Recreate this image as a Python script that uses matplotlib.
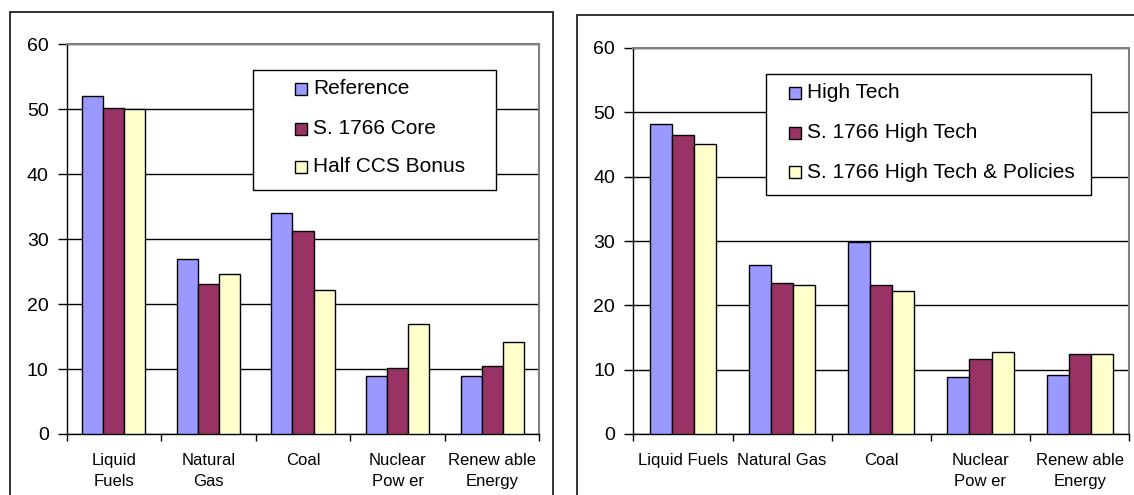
import matplotlib
matplotlib.use("Agg")
import matplotlib.pyplot as plt
from matplotlib.patches import Rectangle
import numpy as np

plt.rcParams['font.family'] = ['Liberation Sans', 'DejaVu Sans']

# ---- data ----
left_categories = ["Liquid\nFuels", "Natural\nGas", "Coal", "Nuclear\nPow er", "Renew able\nEnergy"]
left_series = ["Reference", "S. 1766 Core", "Half CCS Bonus"]
left_reference = [52.0, 27.0, 34.0, 9.0, 9.0]
left_core = [50.2, 23.1, 31.3, 10.2, 10.4]
left_half_ccs = [50.0, 24.6, 22.1, 17.0, 14.1]

right_categories = ["Liquid Fuels", "Natural Gas", "Coal", "Nuclear\nPow er", "Renew able\nEnergy"]
right_series = ["High Tech", "S. 1766 High Tech", "S. 1766 High Tech & Policies"]
right_high_tech = [48.2, 26.2, 29.9, 8.8, 9.1]
right_s1766_ht = [46.5, 23.5, 23.2, 11.7, 12.5]
right_s1766_htp = [45.1, 23.2, 22.3, 12.7, 12.5]

y_ticks = [0, 10, 20, 30, 40, 50, 60]
colors = ["#9999FF", "#993366", "#FFFFCC"]

W, H = 1134, 495
fig = plt.figure(figsize=(W / 100, H / 100), dpi=100)


def fx(px):
    return px / W


def fy(py):
    return 1 - py / H


def draw_panel(rect, categories, values_list, series, legend_box, marker_x, text_x, rows_y):
    ax = fig.add_axes(rect)
    n = len(categories)
    x = np.arange(n)
    bw = 1 / 4.5
    for i, (vals, c) in enumerate(zip(values_list, colors)):
        ax.bar(x + (i - 1) * bw, vals, width=bw, color=c, edgecolor="black",
               linewidth=1.0, zorder=3)
    ax.set_xlim(-0.5, n - 0.5)
    ax.set_ylim(0, 60)
    ax.set_yticks(y_ticks)
    ax.set_axisbelow(True)
    ax.yaxis.grid(True, color="black", linewidth=1.0)
    ax.tick_params(axis="y", direction="out", length=6.5, width=1, pad=6.5,
                   labelsize=14, color="black")
    ax.set_xticks(x)
    ax.set_xticklabels(categories, fontsize=12, linespacing=1.5)
    ax.tick_params(axis="x", which="major", length=0, pad=14)
    ax.set_xticks(np.arange(n + 1) - 0.5, minor=True)
    ax.tick_params(axis="x", which="minor", direction="out", length=5, width=1, color="black")
    for s in ["top", "right"]:
        ax.spines[s].set_color("#808080")
        ax.spines[s].set_linewidth(1.5)
    for s in ["left", "bottom"]:
        ax.spines[s].set_color("black")
        ax.spines[s].set_linewidth(1.0)

    # legend box
    lx0, ly0, lx1, ly1 = legend_box
    fig.add_artist(Rectangle((fx(lx0), fy(ly1)), fx(lx1 - lx0), (ly1 - ly0) / H,
                             transform=fig.transFigure, facecolor="white",
                             edgecolor="black", linewidth=1.0, zorder=5))
    for name, c, ry in zip(series, colors, rows_y):
        fig.add_artist(Rectangle((fx(marker_x), fy(ry + 6)), fx(12), 12 / H,
                                 transform=fig.transFigure, facecolor=c,
                                 edgecolor="black", linewidth=1.0, zorder=6))
        fig.text(fx(text_x), fy(ry), name, fontsize=15, va="center", ha="left", zorder=6)
    return ax


draw_panel([fx(66.7), fy(434), fx(539.3 - 66.7), (434 - 44.3) / H],
           left_categories, [left_reference, left_core, left_half_ccs], left_series,
           (253, 70, 496, 190), 295, 313, [89, 129, 167])

draw_panel([fx(633.3), fy(434), fx(1129.3 - 633.3), (434 - 48) / H],
           right_categories, [right_high_tech, right_s1766_ht, right_s1766_htp], right_series,
           (766, 74, 1091, 195), 789, 807, [93, 133, 172])

# outer chart frames
fig.add_artist(Rectangle((fx(9.5), fy(500)), fx(552.7 - 9.5), (500 - 12) / H,
                         transform=fig.transFigure, facecolor="none",
                         edgecolor="#222222", linewidth=1.3, zorder=10))
fig.add_artist(Rectangle((fx(576.7), fy(500)), fx(1140 - 576.7), (500 - 14.7) / H,
                         transform=fig.transFigure, facecolor="none",
                         edgecolor="#222222", linewidth=1.3, zorder=10))

fig.savefig("out.png", dpi=100)
